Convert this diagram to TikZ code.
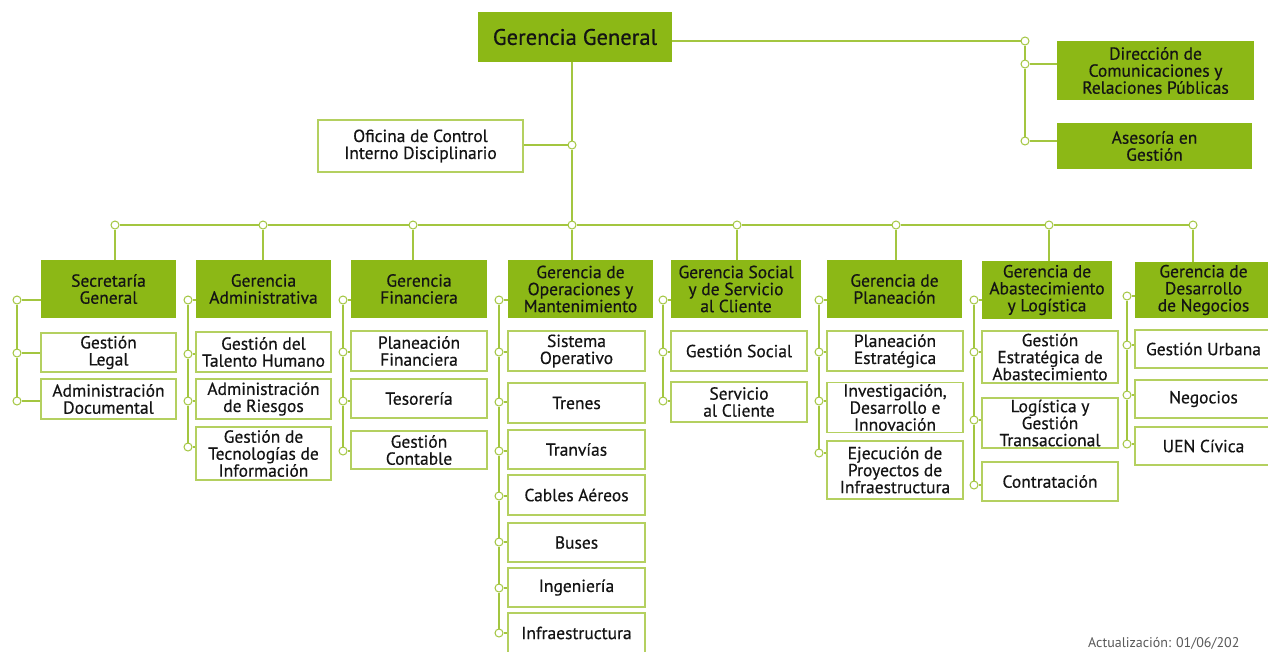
\documentclass[tikz,border=0pt]{standalone}
\usepackage{fontspec}
\setmainfont{PT Sans}[BoldFont=PT Sans, BoldFeatures={FakeBold=0.5}]
\definecolor{gfill}{RGB}{140,184,22}
\definecolor{gline}{RGB}{163,198,64}
\definecolor{gborder}{RGB}{180,208,96}
\definecolor{txt}{RGB}{20,20,20}
\begin{document}
\begin{tikzpicture}[x=1pt,y=-1pt,
  conn/.style={draw=gline, line width=2pt},
  dot/.style={circle, draw=gline, fill=white, line width=1pt, minimum size=8pt, inner sep=0pt},
  gbox/.style={fill=gfill, align=center, text=txt, inner sep=0pt, font=\fontsize{17.5}{17}\selectfont\bfseries},
  sbox/.style={draw=gborder, line width=1.8pt, fill=white, align=center, text=txt, inner sep=0pt, font=\fontsize{17.5}{17}\selectfont\bfseries},
  note/.style={text=gray!70!black, font=\fontsize{14}{14}\selectfont, inner sep=0pt}
]
\useasboundingbox (0,0) rectangle (1268,651);
\fill[white] (0,0) rectangle (1268,651);

% top level
\node[gbox, minimum width=194pt, minimum height=50pt, font=\fontsize{22.5}{20}\selectfont\bfseries] (GG) at (575,37) {Gerencia General};
\node[gbox, minimum width=197pt, minimum height=59pt] (DIR) at (1155.5,70.5) {Dirección de\\Comunicaciones y\\Relaciones Públicas};
\node[gbox, minimum width=195pt, minimum height=46pt] (ASE) at (1154.5,146) {Asesoría en\\Gestión};
\node[sbox, minimum width=205pt, minimum height=52pt] (OFI) at (420.5,146) {Oficina de Control\\Interno Disciplinario};

% gerencias
\node[gbox, minimum width=135pt, minimum height=58pt] (C1) at (108.5,289) {Secretaría\\General};
\node[gbox, minimum width=135pt, minimum height=58pt] (C2) at (263.5,289) {Gerencia\\Administrativa};
\node[gbox, minimum width=136pt, minimum height=58pt] (C3) at (419,289) {Gerencia\\Financiera};
\node[gbox, minimum width=145pt, minimum height=58pt] (C4) at (580.5,289) {Gerencia de\\Operaciones y\\Mantenimiento};
\node[gbox, minimum width=130pt, minimum height=58pt] (C5) at (736,289) {Gerencia Social\\y de Servicio\\al Cliente};
\node[gbox, minimum width=135pt, minimum height=58pt] (C6) at (894.5,289) {Gerencia de\\Planeación};
\node[gbox, minimum width=130pt, minimum height=58pt] (C7) at (1047,290) {Gerencia de\\Abastecimiento\\y Logística};
\node[gbox, minimum width=137pt, minimum height=56pt] (C8) at (1203.5,290) {Gerencia de\\Desarrollo\\de Negocios};

% column 1
\node[sbox, minimum width=135pt, minimum height=39pt] (L1) at (108.5,352.5) {Gestión\\Legal};
\node[sbox, minimum width=135pt, minimum height=40pt] (L2) at (108.5,399) {Administración\\Documental};
% column 2
\node[sbox, minimum width=135pt, minimum height=40pt] (A1) at (263.5,352) {Gestión del\\Talento Humano};
\node[sbox, minimum width=135pt, minimum height=40pt] (A2) at (263.5,399) {Administración\\de Riesgos};
\node[sbox, minimum width=135pt, minimum height=53pt] (A3) at (263.5,453.5) {Gestión de\\Tecnologías de\\Información};
% column 3
\node[sbox, minimum width=136pt, minimum height=40pt] (F1) at (419,351) {Planeación\\Financiera};
\node[sbox, minimum width=136pt, minimum height=39pt] (F2) at (419,398.5) {Tesorería};
\node[sbox, minimum width=136pt, minimum height=38pt] (F3) at (419,450) {Gestión\\Contable};
% column 4
\node[sbox, minimum width=137pt, minimum height=40pt] (O1) at (576.5,351) {Sistema\\Operativo};
\node[sbox, minimum width=137pt, minimum height=40pt] (O2) at (576.5,403) {Trenes};
\node[sbox, minimum width=137pt, minimum height=39pt] (O3) at (576.5,449.5) {Tranvías};
\node[sbox, minimum width=137pt, minimum height=40pt] (O4) at (576.5,495) {Cables Aéreos};
\node[sbox, minimum width=137pt, minimum height=39pt] (O5) at (576.5,542.5) {Buses};
\node[sbox, minimum width=137pt, minimum height=39pt] (O6) at (576.5,587.5) {Ingeniería};
\node[sbox, minimum width=137pt, minimum height=40pt] (O7) at (576.5,633) {Infraestructura};
% column 5
\node[sbox, minimum width=136pt, minimum height=40pt] (S1) at (739,351) {Gestión Social};
\node[sbox, minimum width=136pt, minimum height=40pt] (S2) at (739,402) {Servicio\\al Cliente};
% column 6
\node[sbox, minimum width=136pt, minimum height=40pt] (P1) at (895,351) {Planeación\\Estratégica};
\node[sbox, minimum width=136pt, minimum height=50pt] (P2) at (895,407.5) {Investigación,\\Desarrollo e\\Innovación};
\node[sbox, minimum width=136pt, minimum height=58pt] (P3) at (895,470) {Ejecución de\\Proyectos de\\Infraestructura};
% column 7
\node[sbox, minimum width=136pt, minimum height=52pt] (B1) at (1050,357) {Gestión\\Estratégica de\\Abastecimiento};
\node[sbox, minimum width=136pt, minimum height=50pt] (B2) at (1050,423) {Logística y\\Gestión\\Transaccional};
\node[sbox, minimum width=136pt, minimum height=39pt] (B3) at (1050,481.5) {Contratación};
% column 8
\node[sbox, minimum width=137pt, minimum height=38pt] (D1) at (1203.5,349) {Gestión Urbana};
\node[sbox, minimum width=137pt, minimum height=38pt] (D2) at (1203.5,399) {Negocios};
\node[sbox, minimum width=137pt, minimum height=38pt] (D3) at (1203.5,446) {UEN Cívica};

% dots
\node[dot] (t1) at (1025,41) {};
\node[dot] (t2) at (1025,64) {};
\node[dot] (t3) at (1025,141) {};
\node[dot] (o) at (572,145) {};
\node[dot] (b1) at (115,225) {};
\node[dot] (b2) at (263,225) {};
\node[dot] (b3) at (413,225) {};
\node[dot] (b4) at (572,225) {};
\node[dot] (b5) at (737,225) {};
\node[dot] (b6) at (896,225) {};
\node[dot] (b7) at (1049,225) {};
\node[dot] (b8) at (1193,225) {};

\node[dot] (c1a) at (17,300) {};
\node[dot] (c1b) at (17,353) {};
\node[dot] (c1c) at (17,401) {};

\node[dot] (c2a) at (188,300) {};
\node[dot] (c2b) at (188,354) {};
\node[dot] (c2c) at (188,401) {};
\node[dot] (c2d) at (188,447) {};

\node[dot] (c3a) at (343,300) {};
\node[dot] (c3b) at (343,352) {};
\node[dot] (c3c) at (343,401) {};
\node[dot] (c3d) at (343,451) {};

\node[dot] (c4a) at (499,300) {};
\node[dot] (c4b) at (499,352) {};
\node[dot] (c4c) at (499,402) {};
\node[dot] (c4d) at (499,451) {};
\node[dot] (c4e) at (499,496) {};
\node[dot] (c4f) at (499,542) {};
\node[dot] (c4g) at (499,588) {};
\node[dot] (c4h) at (499,633) {};

\node[dot] (c5a) at (663,300) {};
\node[dot] (c5b) at (663,352) {};
\node[dot] (c5c) at (663,401) {};

\node[dot] (c6a) at (819,300) {};
\node[dot] (c6b) at (819,352) {};
\node[dot] (c6c) at (819,401) {};
\node[dot] (c6d) at (819,453) {};

\node[dot] (c7a) at (974,300) {};
\node[dot] (c7b) at (974,352) {};
\node[dot] (c7c) at (974,420) {};
\node[dot] (c7d) at (974,485) {};

\node[dot] (c8a) at (1127,296) {};
\node[dot] (c8b) at (1127,345) {};
\node[dot] (c8c) at (1127,395) {};
\node[dot] (c8d) at (1127,444) {};

% top connectors
\draw[conn] (o |- GG.south) -- (o) -- (b4);
\draw[conn] (OFI.east |- o) -- (o);
\draw[conn] (GG.east |- t1) -- (t1) -- (t2) -- (t3);
\draw[conn] (t2) -- (t2 -| DIR.west);
\draw[conn] (t3) -- (t3 -| ASE.west);

% bus
\draw[conn] (b1) -- (b2) -- (b3) -- (b4) -- (b5) -- (b6) -- (b7) -- (b8);
\foreach \b/\c in {b1/C1,b2/C2,b3/C3,b4/C4,b5/C5,b6/C6,b7/C7,b8/C8}
  \draw[conn] (\b) -- (\b |- \c.north);

% column connectors
\draw[conn] (c1a) -- (c1b) -- (c1c);
\draw[conn] (c2a) -- (c2b) -- (c2c) -- (c2d);
\draw[conn] (c3a) -- (c3b) -- (c3c) -- (c3d);
\draw[conn] (c4a) -- (c4b) -- (c4c) -- (c4d) -- (c4e) -- (c4f) -- (c4g) -- (c4h);
\draw[conn] (c5a) -- (c5b) -- (c5c);
\draw[conn] (c6a) -- (c6b) -- (c6c) -- (c6d);
\draw[conn] (c7a) -- (c7b) -- (c7c) -- (c7d);
\draw[conn] (c8a) -- (c8b) -- (c8c) -- (c8d);

\foreach \d/\n in {c1a/C1,c1b/L1,c1c/L2,
                   c2a/C2,c2b/A1,c2c/A2,c2d/A3,
                   c3a/C3,c3b/F1,c3c/F2,c3d/F3,
                   c4a/C4,c4b/O1,c4c/O2,c4d/O3,c4e/O4,c4f/O5,c4g/O6,c4h/O7,
                   c5a/C5,c5b/S1,c5c/S2,
                   c6a/C6,c6b/P1,c6c/P2,c6d/P3,
                   c7a/C7,c7b/B1,c7c/B2,c7d/B3,
                   c8a/C8,c8b/D1,c8c/D2,c8d/D3}
  \draw[conn] (\d) -- (\d -| \n.west);

\node[note, anchor=base west] (upd) at (1088,647) {Actualización: 01/06/202};
\end{tikzpicture}
\end{document}
